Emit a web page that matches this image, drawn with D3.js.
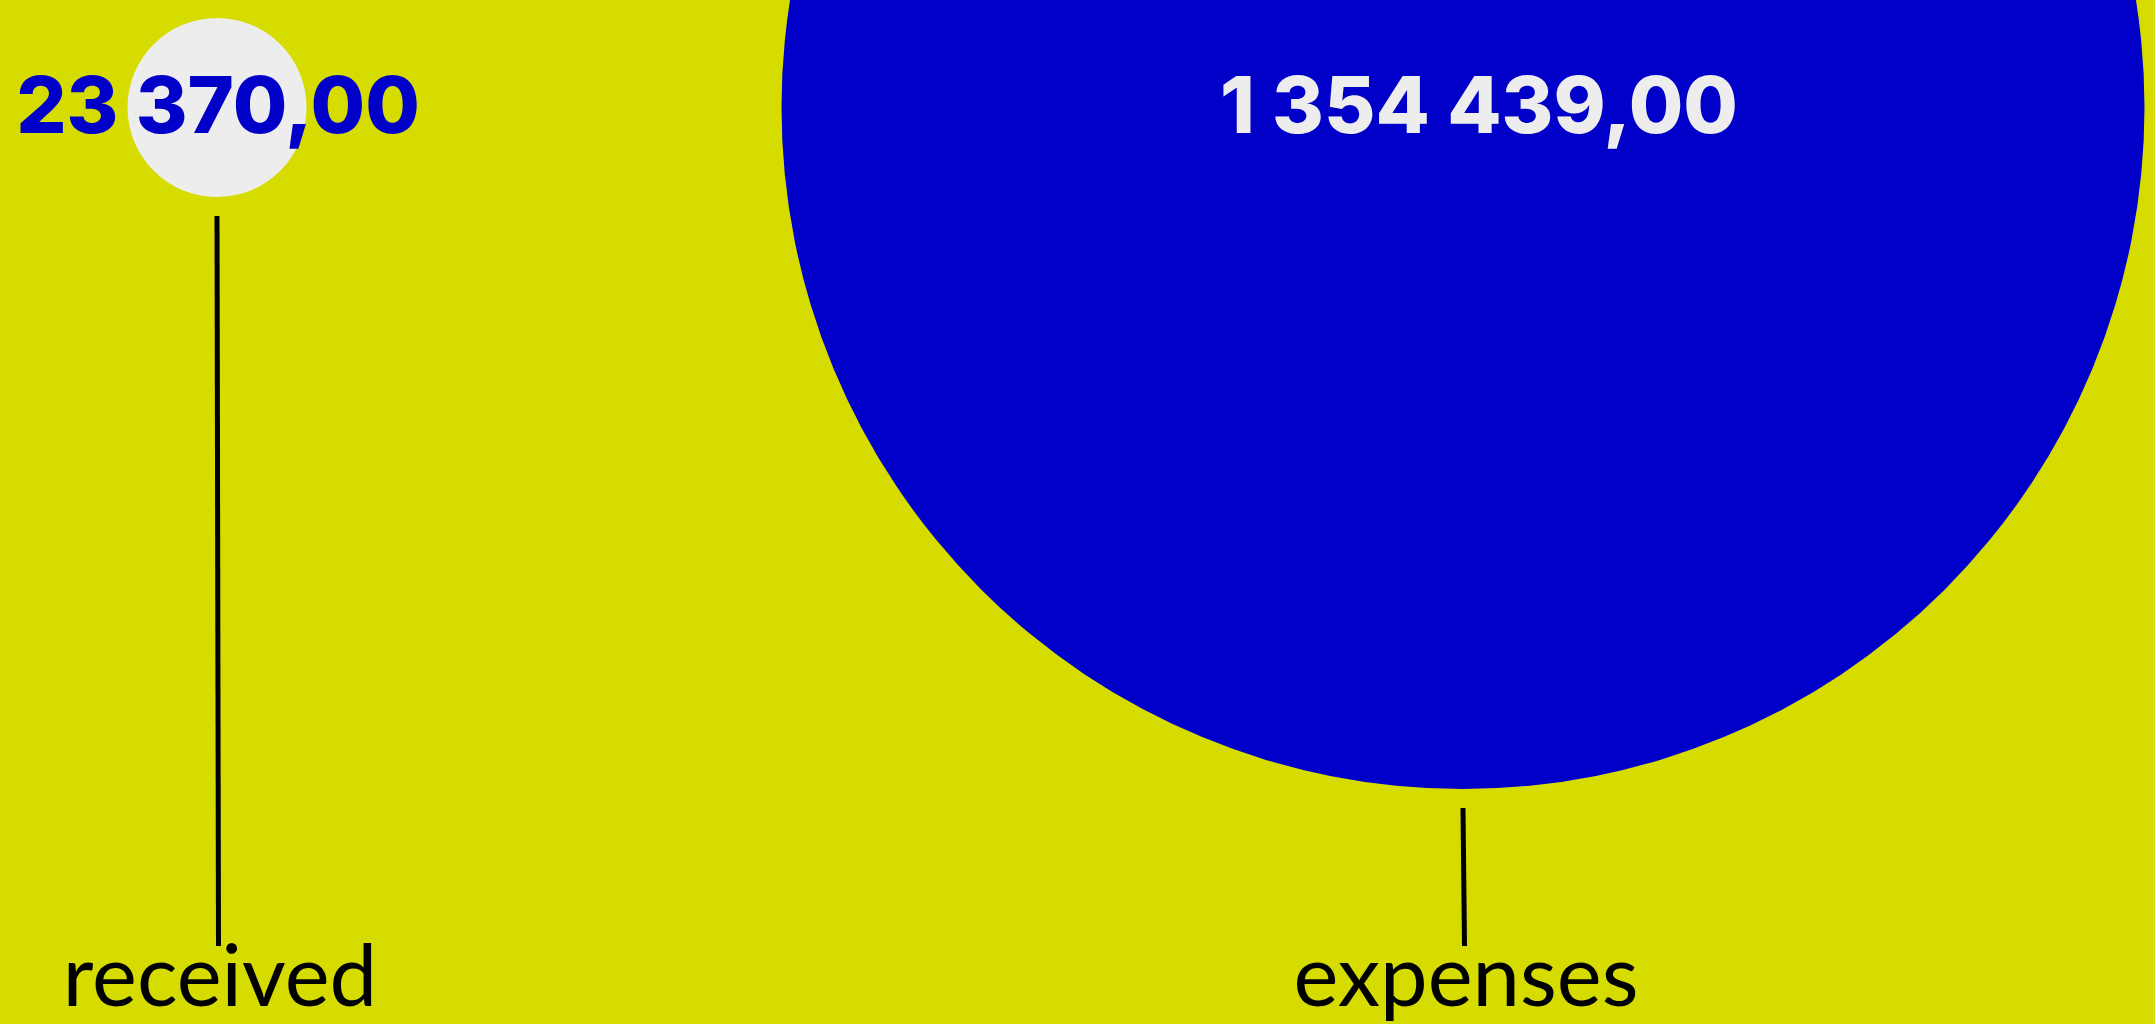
<!DOCTYPE html>
<html>
<head>
<meta charset="utf-8">
<script src="https://cdn.jsdelivr.net/npm/d3@7/dist/d3.min.js"></script>
<style>
  html, body { margin: 0; padding: 0; background: #d6dc00; overflow: hidden; }
  svg { display: block; }
  .value {
    font-family: Inter, "Liberation Sans", Arial, sans-serif;
    font-weight: 800;
    font-size: 79px;
    text-anchor: middle;
  }
  .label {
    font-family: Lato, "Noto Sans", sans-serif;
    font-size: 85px;
    fill: #000;
    text-anchor: middle;
  }
</style>
</head>
<body>
<div id="chart"></div>
<script>
// dados
const categories = ["received", "expenses"];
const values = [23370, 1354439];

const width = 2155, height = 1024;
const cy = 107.5;          // centro vertical dos círculos
const lineBottom = 946;    // fim das linhas-guia
const labelY = 1006;       // linha de base dos rótulos

// formato "1 354 439,00"
const locale = d3.formatLocale({decimal: ",", thousands: " ", grouping: [3], currency: ["", ""]});
const fmt = locale.format(",.2f");

// escalas
const x = d3.scalePoint()
  .domain(categories)
  .range([217, 1463]);

const r = d3.scaleSqrt()
  .domain([0, d3.max(values)])
  .range([0, 681.5]);

const circleFill = d3.scaleOrdinal().domain(categories).range(["#ededed", "#0000c8"]);
const textFill = d3.scaleOrdinal().domain(categories).range(["#0000c8", "#ededed"]);

const data = categories.map((c, i) => ({cat: c, value: values[i]}));

const svg = d3.select("#chart")
  .append("svg")
  .attr("width", width)
  .attr("height", height);

svg.append("rect")
  .attr("width", width)
  .attr("height", height)
  .attr("fill", "#d6dc00");

// círculos
svg.selectAll("circle.bubble")
  .data(data)
  .enter()
  .append("circle")
  .attr("class", "bubble")
  .attr("cx", d => x(d.cat))
  .attr("cy", cy)
  .attr("r", d => r(d.value))
  .attr("fill", d => circleFill(d.cat));

// linhas-guia
svg.selectAll("line.leader")
  .data(data)
  .enter()
  .append("line")
  .attr("class", "leader")
  .attr("x1", d => x(d.cat))
  .attr("x2", d => x(d.cat) + 1.5)
  .attr("y1", d => cy + r(d.value) + 19)
  .attr("y2", lineBottom)
  .attr("stroke", "#000")
  .attr("stroke-width", 5);

// valores
svg.selectAll("text.value")
  .data(data)
  .enter()
  .append("text")
  .attr("class", "value")
  .attr("x", d => x(d.cat) + (d.value > 100000 ? 16 : 1))
  .attr("y", 133)
  .attr("fill", d => textFill(d.cat))
  .text(d => fmt(d.value));

// rótulos
svg.selectAll("text.label")
  .data(data)
  .enter()
  .append("text")
  .attr("class", "label")
  .attr("x", d => x(d.cat) + 3)
  .attr("y", labelY)
  .text(d => d.cat);
</script>
</body>
</html>
